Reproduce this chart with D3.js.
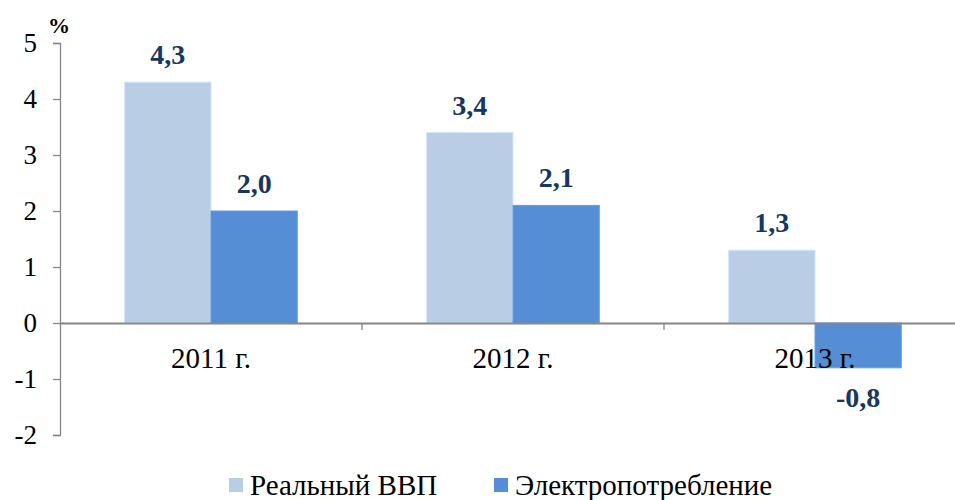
<!DOCTYPE html>
<html lang="ru">

<head>
    <meta charset="utf-8" />
    <title>Реальный ВВП и электропотребление</title>
    <script src="https://cdn.jsdelivr.net/npm/d3@7"></script>
    <style>
        body { margin: 0; background: #fff; }
    </style>
</head>

<body>
    <div id='chart'></div>
</body>
<script>

    let years = ['2011 г.', '2012 г.', '2013 г.'];
    let series = ['Реальный ВВП', 'Электропотребление'];
    let gdp = [4.3, 3.4, 1.3];
    let power = [2.0, 2.1, -0.8];
    let yTicks = [5, 4, 3, 2, 1, 0, -1, -2];
    let colors = ['#B9CDE5', '#558ED5'];

    let serif = '"Liberation Serif", "Times New Roman", monospace';
    let width = 955, height = 500;
    let margin = { top: 43, left: 60 };

    let svg = d3.select('#chart')
        .append('svg')
        .attr('width', width)
        .attr('height', height);

    let x = d3.scaleBand()
        .domain(years)
        .range([margin.left, margin.left + 302 * 3]);

    let x1 = d3.scaleBand()
        .domain(series)
        .range([0, x.bandwidth()])
        .paddingOuter(0.75)
        .paddingInner(0);

    let y = d3.scaleLinear()
        .domain([-2, 5])
        .range([435, margin.top]);

    // y axis
    let yAxis = d3.axisLeft(y)
        .tickValues(yTicks)
        .tickSize(7)
        .tickPadding(16)
        .tickFormat(d => d);
    let gy = svg.append('g')
        .attr('transform', 'translate(' + margin.left + ',0)')
        .call(yAxis);
    gy.selectAll('path, line').attr('stroke', '#868686').attr('stroke-width', 1.3);
    gy.selectAll('text')
        .style('font-family', serif)
        .style('font-size', '27px')
        .attr('fill', '#000');

    svg.append('text')
        .attr('x', 48)
        .attr('y', 33)
        .style('font-family', serif)
        .style('font-size', '22px')
        .style('font-weight', 'bold')
        .text('%');

    let rows = [];
    years.forEach((yr, i) => {
        rows.push({ year: yr, s: series[0], v: gdp[i], c: colors[0] });
        rows.push({ year: yr, s: series[1], v: power[i], c: colors[1] });
    });

    svg.selectAll('.bar')
        .data(rows)
        .enter().append('rect')
        .attr('class', 'bar')
        .attr('x', d => x(d.year) + x1(d.s))
        .attr('width', x1.bandwidth())
        .attr('y', d => y(Math.max(0, d.v)))
        .attr('height', d => Math.abs(y(d.v) - y(0)))
        .attr('fill', d => d.c)
        .attr('stroke', d => d3.color(d.c).brighter(0.3))
        .attr('stroke-width', 1);

    // zero line with category ticks
    let xAxis = d3.axisBottom(x)
        .tickSize(0)
        .tickFormat('');
    let gx = svg.append('g')
        .attr('transform', 'translate(0,' + y(0) + ')')
        .call(xAxis);
    gx.select('path').attr('stroke', '#868686').attr('stroke-width', 2);
    gx.selectAll('.sep')
        .data(years.slice(1))
        .enter().append('line')
        .attr('x1', d => x(d))
        .attr('x2', d => x(d))
        .attr('y1', 0)
        .attr('y2', 7)
        .attr('stroke', '#868686')
        .attr('stroke-width', 1.3);

    svg.selectAll('.cat')
        .data(years)
        .enter().append('text')
        .attr('x', d => x(d) + x.bandwidth() / 2)
        .attr('y', y(0) + 45)
        .attr('text-anchor', 'middle')
        .style('font-family', serif)
        .style('font-size', '29px')
        .text(d => d);

    svg.selectAll('.val')
        .data(rows)
        .enter().append('text')
        .attr('x', d => x(d.year) + x1(d.s) + x1.bandwidth() / 2)
        .attr('y', d => d.v >= 0 ? y(d.v) - 18 : y(d.v) + 39)
        .attr('text-anchor', 'middle')
        .style('font-family', serif)
        .style('font-size', '28px')
        .style('font-weight', 'bold')
        .attr('fill', '#17375E')
        .text(d => d3.format('.1f')(d.v).replace('.', ',').replace('−', '-'));

    // legend
    let legend = svg.selectAll('.leg')
        .data(series)
        .enter().append('g')
        .attr('transform', (d, i) => 'translate(' + [229, 494][i] + ',478)');
    legend.append('rect')
        .attr('width', 14)
        .attr('height', 14)
        .attr('fill', (d, i) => colors[i]);
    legend.append('text')
        .attr('x', 21)
        .attr('y', 17)
        .style('font-family', serif)
        .style('font-size', '29px')
        .text(d => d);

</script>

</html>
